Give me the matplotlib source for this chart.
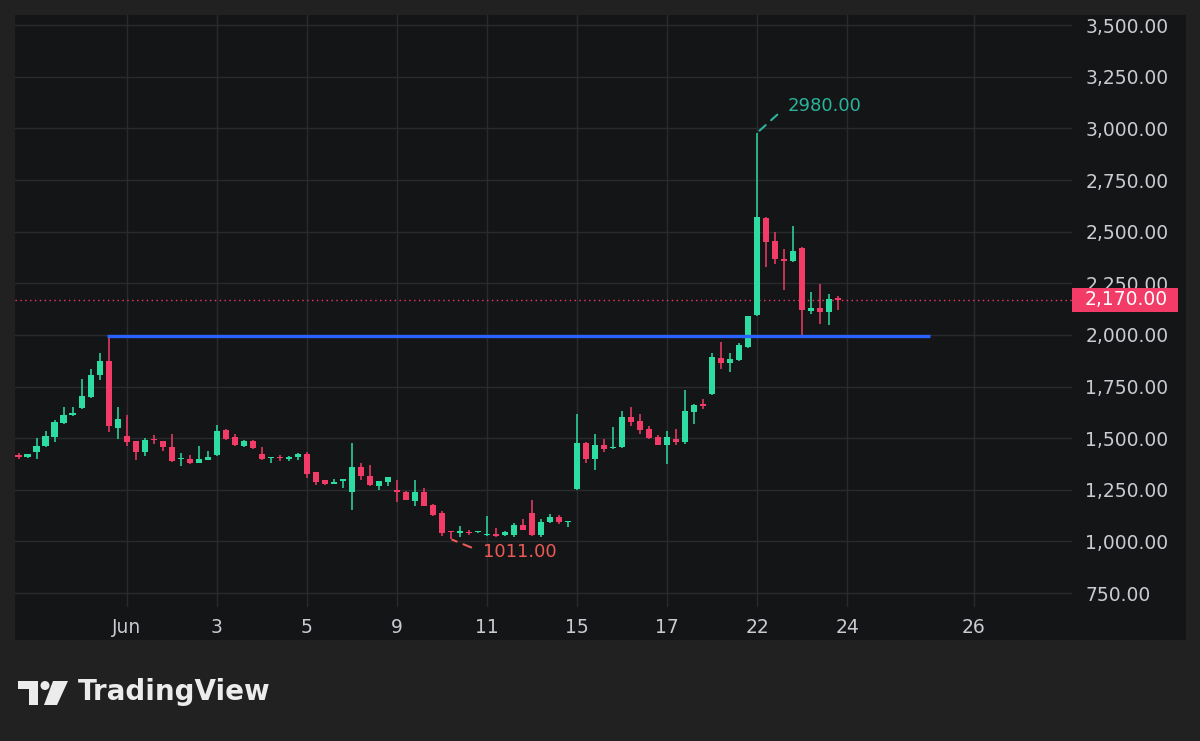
import matplotlib
matplotlib.use("Agg")
import matplotlib.pyplot as plt
import matplotlib.transforms as mtransforms
from matplotlib.patches import Rectangle, Circle, Polygon
import numpy as np

# DATA (one candle per bar)
OPEN = [1418, 1411, 1433, 1462, 1507, 1575, 1613, 1646, 1701, 1808,
        1874, 1548, 1511, 1485, 1433, 1497, 1485, 1459, 1400, 1398,
        1382, 1395, 1419, 1540, 1507, 1462, 1487, 1424, 1405, 1409,
        1398, 1407, 1424, 1335, 1298, 1279, 1294, 1241, 1359, 1319,
        1270, 1290, 1247, 1241, 1198, 1238, 1177, 1136, 1052, 1043,
        1048, 1044, 1031, 1035, 1031, 1031, 1078, 1136, 1031, 1093,
        1120, 1093, 1254, 1478, 1398, 1467, 1451, 1459, 1604, 1582,
        1543, 1504, 1467, 1498, 1480, 1629, 1666, 1714, 1887, 1863,
        1879, 1943, 2097, 2568, 2457, 2367, 2360, 2420, 2116, 2129,
        2110, 2178]
HIGH = [1430, 1424, 1500, 1537, 1588, 1650, 1653, 1785, 1834, 1911,
        1993, 1650, 1611, 1487, 1500, 1516, 1487, 1521, 1430, 1417,
        1462, 1438, 1564, 1545, 1519, 1490, 1490, 1456, 1411, 1417,
        1414, 1428, 1435, 1338, 1300, 1301, 1305, 1478, 1379, 1370,
        1294, 1311, 1298, 1243, 1298, 1258, 1180, 1149, 1053, 1076,
        1058, 1052, 1125, 1067, 1050, 1092, 1107, 1201, 1107, 1132,
        1130, 1096, 1617, 1480, 1519, 1496, 1556, 1633, 1651, 1617,
        1560, 1515, 1537, 1547, 1734, 1665, 1690, 1911, 1965, 1911,
        1963, 2092, 2980, 2573, 2500, 2415, 2528, 2425, 2207, 2245,
        2199, 2189]
LOW = [1398, 1405, 1398, 1456, 1482, 1570, 1610, 1640, 1695, 1782,
       1532, 1498, 1462, 1395, 1414, 1472, 1440, 1386, 1366, 1374,
       1380, 1393, 1415, 1490, 1462, 1456, 1446, 1395, 1379, 1390,
       1392, 1395, 1306, 1274, 1274, 1277, 1258, 1152, 1298, 1270,
       1249, 1269, 1193, 1199, 1172, 1170, 1125, 1027, 1011, 1020,
       1033, 1040, 1028, 1020, 1025, 1020, 1054, 1029, 1020, 1091,
       1085, 1069, 1250, 1379, 1346, 1434, 1449, 1451, 1561, 1519,
       1495, 1465, 1375, 1467, 1470, 1568, 1641, 1710, 1835, 1823,
       1875, 1938, 2090, 2331, 2344, 2218, 2355, 1984, 2102, 2053,
       2048, 2121]
CLOSE = [1410, 1422, 1462, 1511, 1580, 1613, 1621, 1705, 1808, 1874,
         1561, 1592, 1483, 1433, 1491, 1491, 1459, 1391, 1403, 1379,
         1398, 1411, 1537, 1495, 1467, 1487, 1454, 1398, 1411, 1403,
         1411, 1424, 1327, 1290, 1278, 1287, 1303, 1359, 1317, 1274,
         1294, 1311, 1240, 1201, 1238, 1172, 1128, 1040, 1046, 1050,
         1042, 1048, 1035, 1029, 1044, 1078, 1056, 1031, 1096, 1120,
         1093, 1096, 1478, 1398, 1467, 1448, 1459, 1604, 1580, 1540,
         1503, 1467, 1504, 1480, 1633, 1661, 1656, 1892, 1863, 1884,
         1952, 2092, 2573, 2452, 2368, 2358, 2407, 2121, 2132, 2113,
         2174, 2170]

TIME_TICKS = [12, 22, 32, 42, 52, 62, 72, 82, 92, 106]
TIME_LABELS = ["Jun", "3", "5", "9", "11", "15", "17", "22", "24", "26"]
PRICE_TICKS = [750, 1000, 1250, 1500, 1750, 2000, 2250, 2500, 2750, 3000, 3250, 3500]

LAST_PRICE = 2170
LEVEL = 1993            # horizontal ray drawn on the chart
LEVEL_SPAN = (9.8, 101.2)

# STYLE
UP = "#2ddca0"
DOWN = "#f23b67"
PANE = "#141517"
OUTER = "#212121"
GRID = "#282a2e"
TEXT = "#c9cbd0"
FONT = "DejaVu Sans"

W, H = 1200, 741


def px_box(x0, y0, x1, y1):
    """Pixel box (top-left origin) -> figure fraction [l, b, w, h]."""
    return [x0 / W, 1 - y1 / H, (x1 - x0) / W, (y1 - y0) / H]


fig = plt.figure(figsize=(W / 100, H / 100), dpi=100, facecolor=OUTER)

# dark chart panel behind everything
fig.patches.append(Rectangle((15 / W, 1 - 640 / H), (1186 - 15) / W, (640 - 15) / H,
                             transform=fig.transFigure, facecolor=PANE,
                             edgecolor="none", zorder=-5))

ax = fig.add_axes(px_box(15, 15, 1072, 607))
ax.set_facecolor(PANE)
for s in ax.spines.values():
    s.set_visible(False)

n = len(OPEN)
idx = np.arange(n)
o = np.array(OPEN, float)
h = np.array(HIGH, float)
l = np.array(LOW, float)
c = np.array(CLOSE, float)
colors = np.where(c >= o, UP, DOWN)

# wicks + bodies
ax.vlines(idx, l, h, colors=colors, linewidth=1.1, zorder=3)
body_lo = np.minimum(o, c)
body_h = np.maximum(np.abs(c - o), 5)
ax.bar(idx, body_h, bottom=body_lo, width=0.68, color=colors, linewidth=0, zorder=4)

# support / resistance ray
ax.hlines(LEVEL, LEVEL_SPAN[0], LEVEL_SPAN[1], color="#2962ff", linewidth=2.4, zorder=5)

# last price line + label
ax.axhline(LAST_PRICE, color=DOWN, linestyle=(0, (1, 2.5)), linewidth=1, zorder=2)
blend = mtransforms.blended_transform_factory(ax.transAxes, ax.transData)
half = 12 / 0.2065
ax.add_patch(Rectangle((1.0, LAST_PRICE - half), (1178 - 1072) / 1057, 2 * half,
                       transform=blend, facecolor=DOWN, edgecolor="none",
                       clip_on=False, zorder=6))
ax.text(1.0 + 13 / 1057, LAST_PRICE, f"{LAST_PRICE:,.2f}", transform=blend,
        color="white", fontsize=13.5, family=FONT, va="center", ha="left",
        clip_on=False, zorder=7)

# high / low markers
i_hi = int(np.argmax(h))
i_lo = int(np.argmin(l))
ax.annotate(f"{h[i_hi]:.2f}", xy=(i_hi, h[i_hi]), xytext=(30, 27),
            textcoords="offset pixels", color="#2bb39c", fontsize=13,
            family=FONT, va="center", ha="left",
            arrowprops=dict(arrowstyle="-", color="#2bb39c", linewidth=1.5,
                            linestyle=(0, (4, 3.5)), shrinkA=7, shrinkB=0,
                            relpos=(0, 0.5)))
ax.annotate(f"{l[i_lo]:.2f}", xy=(i_lo, l[i_lo]), xytext=(32, -13),
            textcoords="offset pixels", color="#ec5a55", fontsize=13,
            family=FONT, va="center", ha="left",
            arrowprops=dict(arrowstyle="-", color="#ec5a55", linewidth=1.5,
                            linestyle=(0, (4, 3.5)), shrinkA=7, shrinkB=1,
                            relpos=(0, 0.5)))

# axes, grid, ticks
ax.set_xlim((15 - 18.5) / 9.01, (1072 - 18.5) / 9.01)
ax.set_ylim(2000 - 272 / 0.2065, 2000 + 320 / 0.2065)
ax.set_xticks(TIME_TICKS)
ax.set_xticklabels(TIME_LABELS)
ax.set_yticks(PRICE_TICKS)
ax.set_yticklabels([f"{v:,.2f}" for v in PRICE_TICKS])
ax.yaxis.tick_right()
ax.tick_params(axis="y", length=0, pad=9.5, labelsize=13.5, labelcolor=TEXT)
ax.tick_params(axis="x", length=0, pad=8, labelsize=13.5, labelcolor=TEXT)
for lab in ax.get_xticklabels() + ax.get_yticklabels():
    lab.set_family(FONT)
ax.grid(True, color=GRID, linewidth=1)
ax.set_axisbelow(True)

# TradingView watermark
lg = fig.add_axes(px_box(15, 675, 75, 710))
lg.set_xlim(15, 75)
lg.set_ylim(710, 675)
lg.axis("off")
lg.add_patch(Rectangle((18, 681), 20, 8, color="#ececec", linewidth=0))
lg.add_patch(Rectangle((29, 681), 9, 24, color="#ececec", linewidth=0))
lg.add_patch(Circle((45, 685.5), 4.5, color="#ececec", linewidth=0))
lg.add_patch(Polygon([(53, 681), (68, 681), (57, 705), (44, 705)], closed=True,
                     color="#ececec", linewidth=0))
fig.text(78 / W, 1 - 692 / H, "TradingView", color="#ececec", fontsize=20,
         fontweight="bold", family="DejaVu Sans", va="center", ha="left")

fig.savefig("out.png", dpi=100, facecolor=OUTER)
